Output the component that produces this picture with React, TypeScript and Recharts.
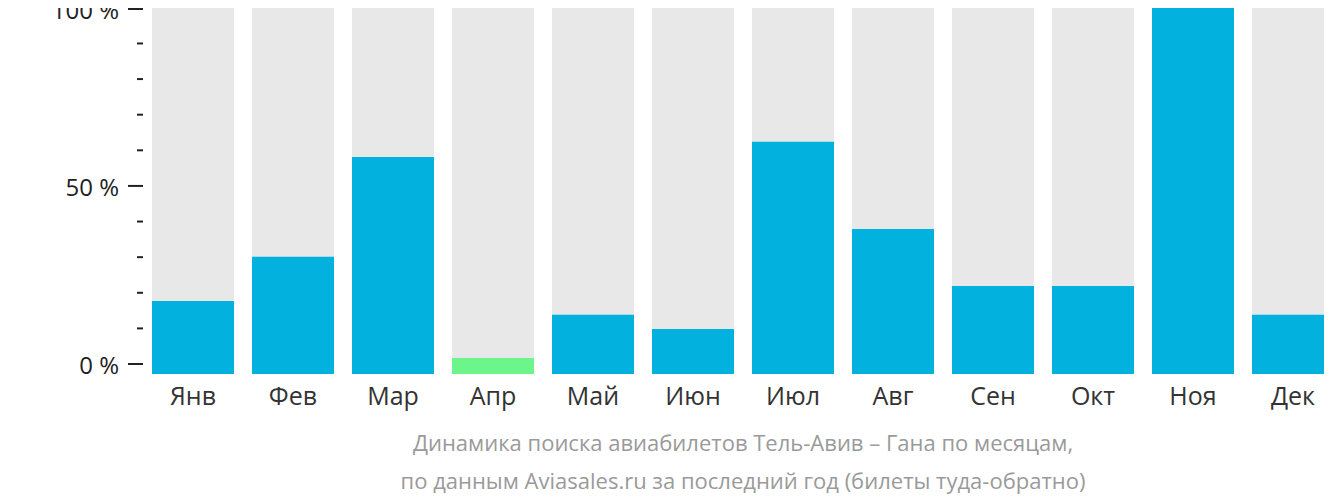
import { BarChart, Bar, XAxis, YAxis, Cell } from "recharts";

const months = ["Янв", "Фев", "Мар", "Апр", "Май", "Июн", "Июл", "Авг", "Сен", "Окт", "Ноя", "Дек"];
const searchShare = [17.7, 30.1, 58.1, 1.7, 13.8, 9.8, 62.4, 37.9, 21.9, 21.9, 102.2, 13.8];
const lowestMonth = "Апр";
const yTicks = [0, 10, 20, 30, 40, 50, 60, 70, 80, 90, 100];
const yLabels = [0, 50, 100];
const axisMin = -2.8;
const axisMax = 102.2;

const captionLines = [
  "Динамика поиска авиабилетов Тель-Авив – Гана по месяцам,",
  "по данным Aviasales.ru за последний год (билеты туда-обратно)",
];

const data = months.map((month, i) => ({ month, value: [axisMin, searchShare[i]] }));

const FONT = "'Open Sans', sans-serif";

function PctTick(props: any) {
  const { x, y, payload } = props;
  const major = yLabels.includes(payload.value);
  return (
    <g>
      <line x1={x - (major ? 15 : 6)} x2={x} y1={y} y2={y} stroke="#222" strokeWidth={2} />
      {major && (
        <text x={x - 24} y={y} dy="0.4em" textAnchor="end" fill="#222" fontSize={24} fontFamily={FONT}>
          {payload.value} %
        </text>
      )}
    </g>
  );
}

export default function App() {
  return (
    <div style={{ position: "relative", top: -8, left: -8, width: 1343, height: 494 }}>
      <BarChart width={1343} height={420} data={data} margin={{ top: 0, right: 0, bottom: 0, left: 0 }}>
        <XAxis
          dataKey="month"
          axisLine={false}
          tickLine={false}
          tickSize={0}
          tickMargin={13}
          height={46}
          tick={{ fill: "#333", fontSize: 25, fontFamily: FONT }}
          interval={0}
        />
        <YAxis
          type="number"
          domain={[axisMin, axisMax]}
          ticks={yTicks}
          allowDataOverflow
          axisLine={false}
          tickLine={false}
          tickSize={0}
          tickMargin={0}
          width={143}
          tick={<PctTick />}
        />
        <Bar dataKey="value" barSize={82} background={{ fill: "#e8e8e8" }} isAnimationActive={false}>
          {data.map((d) => (
            <Cell key={d.month} fill={d.month === lowestMonth ? "#6cf58a" : "#02b1dd"} />
          ))}
        </Bar>
      </BarChart>
      {captionLines.map((line, i) => (
        <div
          key={i}
          style={{
            position: "absolute",
            left: 143,
            width: 1200,
            top: 428 + i * 38,
            textAlign: "center",
            fontFamily: FONT,
            fontSize: 22,
            color: "#9a9a9a",
            lineHeight: "28px",
            whiteSpace: "nowrap",
          }}
        >
          {line}
        </div>
      ))}
    </div>
  );
}
